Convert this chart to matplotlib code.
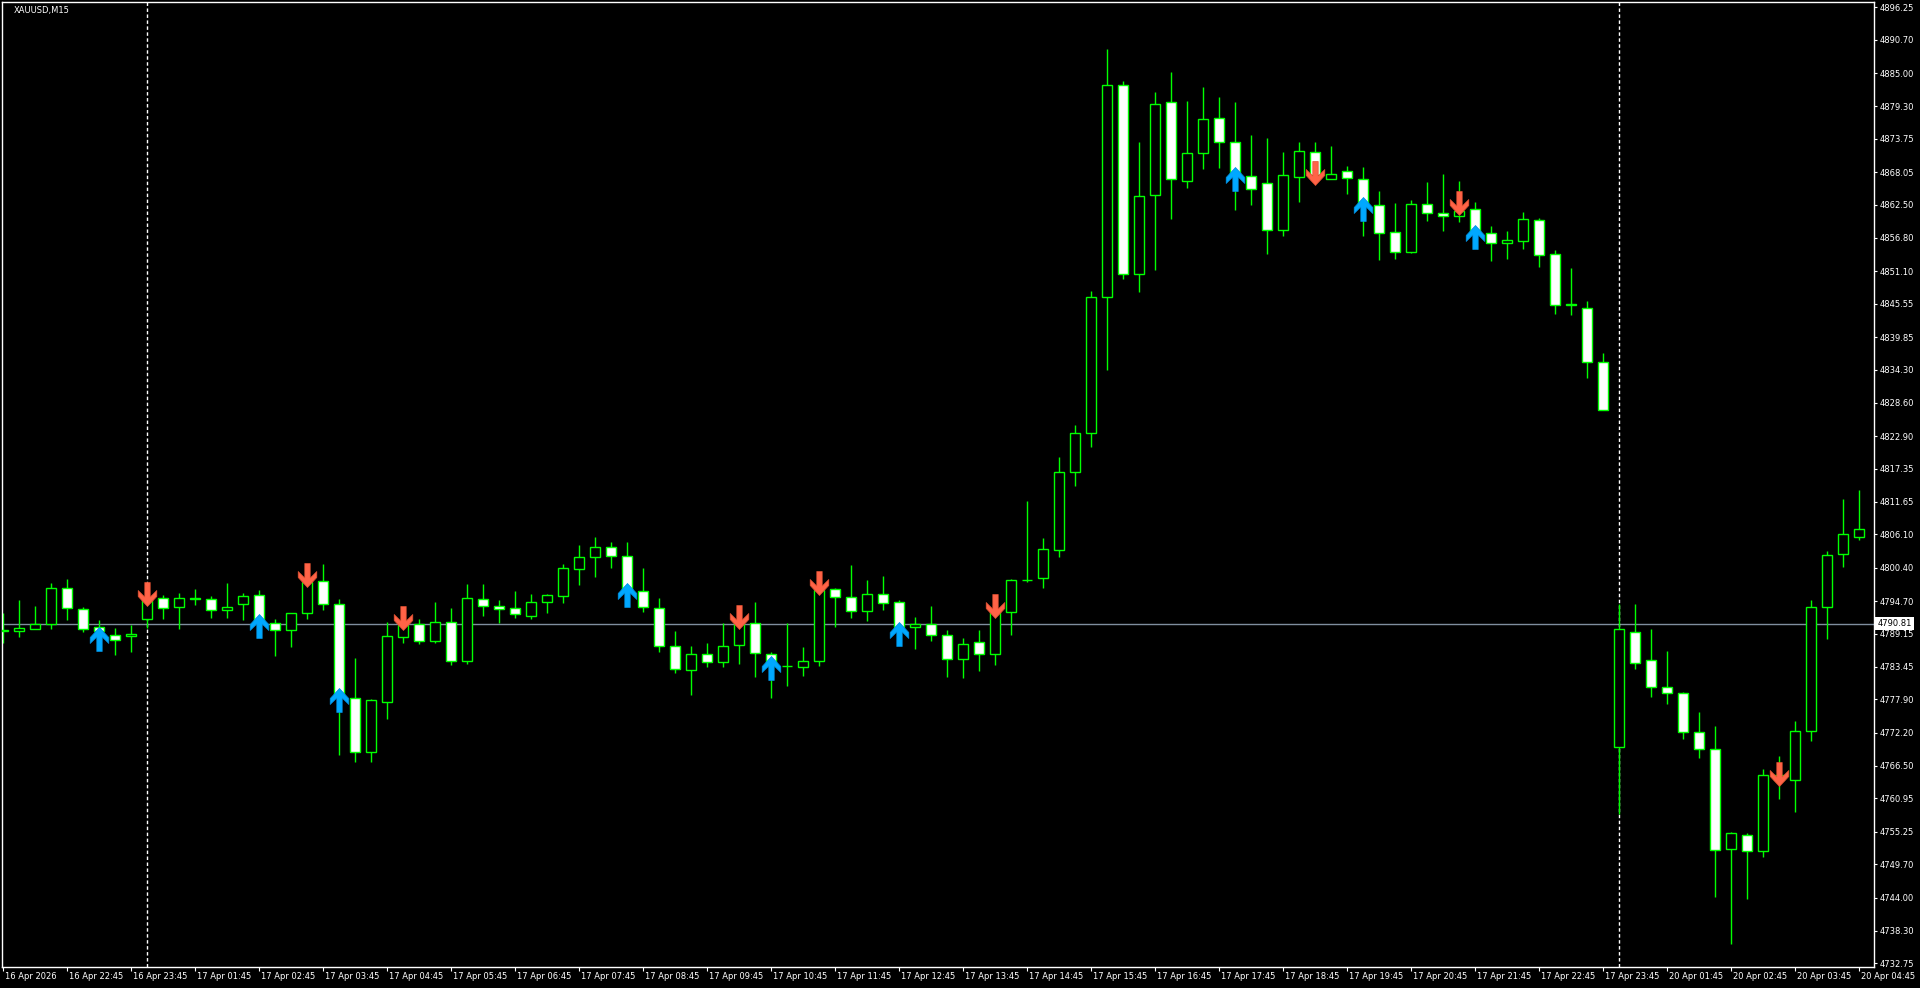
import matplotlib
matplotlib.use('Agg')
import matplotlib.pyplot as plt
import numpy as np
from matplotlib.path import Path
from matplotlib.markers import MarkerStyle
from matplotlib.transforms import ScaledTranslation, blended_transform_factory

plt.rcParams['font.family'] = ['DejaVu Sans']

# ---- data (XAUUSD M15) ----
opens = [4789.63, 4789.52, 4789.97, 4790.72, 4796.87, 4793.28, 4790.20, 4788.84, 4788.66, 4791.57,
         4795.16, 4793.62, 4795.16, 4794.99, 4793.11, 4794.14, 4795.68, 4790.89, 4789.69, 4792.60,
         4798.07, 4794.14, 4778.06, 4768.82, 4777.38, 4788.61, 4790.72, 4787.92, 4791.06, 4784.50,
         4794.99, 4793.79, 4793.45, 4792.20, 4794.48, 4795.62, 4800.24, 4802.17, 4803.89, 4802.35,
         4796.36, 4793.45, 4786.95, 4782.85, 4785.58, 4784.22, 4787.12, 4790.89, 4785.58, 4783.59,
         4783.36, 4784.39, 4796.70, 4795.33, 4792.94, 4795.85, 4794.48, 4790.20, 4790.72, 4788.83,
         4784.73, 4787.64, 4785.58, 4792.77, 4798.30, 4798.58, 4803.37, 4816.71, 4823.39, 4846.65,
         4882.91, 4850.58, 4864.21, 4880.00, 4866.60, 4871.39, 4877.26, 4873.16, 4867.46, 4866.15,
         4858.22, 4867.29, 4871.45, 4866.83, 4868.20, 4866.83, 4862.38, 4857.76, 4854.46, 4862.55,
         4861.01, 4860.49, 4861.69, 4857.59, 4855.88, 4856.22, 4859.81, 4853.99, 4845.44, 4844.76,
         4835.52, 4769.79, 4789.35, 4784.56, 4779.94, 4778.91, 4772.24, 4769.34, 4752.23, 4754.63,
         4751.89, 4764.89, 4764.03, 4772.42, 4793.62, 4802.69, 4805.71]
highs = [4792.60, 4794.88, 4793.85, 4797.73, 4798.47, 4793.68, 4791.46, 4790.03, 4790.60, 4795.73,
         4795.73, 4796.02, 4796.70, 4795.56, 4797.73, 4796.02, 4796.59, 4791.57, 4792.60, 4798.58,
         4801.04, 4794.99, 4784.90, 4777.89, 4791.12, 4793.74, 4791.57, 4794.53, 4793.51, 4797.61,
         4797.61, 4794.88, 4796.42, 4795.90, 4795.90, 4801.03, 4804.28, 4805.65, 4804.74, 4804.80,
         4800.35, 4795.16, 4789.58, 4787.01, 4787.52, 4790.94, 4791.00, 4794.53, 4785.93, 4790.94,
         4786.84, 4796.70, 4796.99, 4800.86, 4798.30, 4798.98, 4794.88, 4791.91, 4793.85, 4789.75,
         4788.38, 4789.75, 4793.05, 4798.47, 4811.81, 4805.48, 4819.34, 4824.81, 4847.73, 4889.12,
         4883.59, 4873.21, 4881.77, 4885.19, 4880.23, 4882.62, 4880.91, 4880.06, 4874.41, 4873.90,
         4871.50, 4873.21, 4873.21, 4872.53, 4869.11, 4868.94, 4864.83, 4862.78, 4863.29, 4866.37,
         4867.73, 4866.54, 4862.95, 4858.84, 4857.99, 4861.24, 4860.21, 4854.74, 4851.66, 4846.01,
         4837.06, 4794.19, 4794.19, 4789.92, 4786.16, 4779.14, 4775.72, 4773.33, 4755.14, 4754.97,
         4765.97, 4768.20, 4774.18, 4794.88, 4803.30, 4812.15, 4813.70]
lows = [4787.47, 4788.61, 4789.97, 4789.97, 4791.46, 4789.46, 4788.89, 4785.47, 4786.04, 4790.03,
        4791.63, 4789.97, 4794.02, 4791.86, 4791.86, 4791.46, 4790.32, 4785.30, 4786.90, 4791.63,
        4793.17, 4768.37, 4767.23, 4767.23, 4774.47, 4787.47, 4787.41, 4787.58, 4783.82, 4783.93,
        4792.20, 4791.00, 4791.86, 4791.63, 4792.60, 4794.42, 4797.50, 4798.87, 4800.41, 4796.02,
        4792.88, 4786.04, 4782.45, 4778.69, 4783.36, 4783.47, 4783.99, 4781.77, 4778.17, 4780.23,
        4781.94, 4783.65, 4790.32, 4791.86, 4791.34, 4793.22, 4790.03, 4786.44, 4787.92, 4781.76,
        4781.59, 4782.79, 4783.76, 4788.89, 4798.01, 4796.99, 4802.29, 4814.43, 4820.99, 4834.22,
        4849.73, 4847.62, 4851.38, 4860.10, 4865.40, 4868.65, 4868.82, 4861.58, 4862.44, 4854.06,
        4857.19, 4863.01, 4866.15, 4866.83, 4864.38, 4857.19, 4853.03, 4853.20, 4854.29, 4859.75,
        4858.04, 4859.58, 4857.02, 4852.91, 4853.25, 4854.96, 4851.88, 4843.85, 4843.68, 4832.90,
        4827.31, 4758.22, 4783.02, 4778.34, 4777.15, 4771.16, 4767.91, 4744.14, 4735.99, 4743.79,
        4750.86, 4760.79, 4758.68, 4770.76, 4788.27, 4800.58, 4805.14]
closes = [4789.70, 4790.03, 4790.72, 4796.87, 4793.57, 4789.86, 4789.52, 4787.98, 4789.06, 4794.88,
          4793.45, 4795.16, 4795.11, 4793.11, 4793.62, 4795.51, 4790.89, 4789.69, 4792.60, 4798.01,
          4794.14, 4778.23, 4768.82, 4777.72, 4788.66, 4790.66, 4787.92, 4791.06, 4784.50, 4795.16,
          4793.79, 4793.40, 4792.43, 4794.53, 4795.68, 4800.29, 4802.17, 4803.89, 4802.35, 4796.36,
          4793.62, 4786.95, 4783.02, 4785.58, 4784.22, 4786.95, 4790.77, 4785.76, 4783.65, 4783.62,
          4784.39, 4796.59, 4795.33, 4792.94, 4795.90, 4794.31, 4790.20, 4790.72, 4788.83, 4784.73,
          4787.30, 4785.58, 4792.77, 4798.24, 4798.24, 4803.54, 4816.71, 4823.39, 4846.65, 4882.91,
          4850.58, 4863.92, 4879.66, 4866.83, 4871.28, 4877.09, 4873.16, 4867.51, 4865.23, 4858.22,
          4867.51, 4871.62, 4867.57, 4867.68, 4867.00, 4862.38, 4857.71, 4854.46, 4862.55, 4861.01,
          4860.49, 4861.41, 4857.59, 4855.88, 4856.39, 4859.98, 4853.82, 4845.27, 4845.40, 4835.52,
          4827.31, 4789.86, 4784.05, 4779.94, 4778.91, 4772.24, 4769.34, 4752.06, 4754.97, 4751.89,
          4764.89, 4764.03, 4772.42, 4793.62, 4802.60, 4806.11, 4806.96]

time_labels = ["16 Apr 2026", "16 Apr 22:45", "16 Apr 23:45", "17 Apr 01:45", "17 Apr 02:45",
               "17 Apr 03:45", "17 Apr 04:45", "17 Apr 05:45", "17 Apr 06:45", "17 Apr 07:45",
               "17 Apr 08:45", "17 Apr 09:45", "17 Apr 10:45", "17 Apr 11:45", "17 Apr 12:45",
               "17 Apr 13:45", "17 Apr 14:45", "17 Apr 15:45", "17 Apr 16:45", "17 Apr 17:45",
               "17 Apr 18:45", "17 Apr 19:45", "17 Apr 20:45", "17 Apr 21:45", "17 Apr 22:45",
               "17 Apr 23:45", "20 Apr 01:45", "20 Apr 02:45", "20 Apr 03:45", "20 Apr 04:45"]
time_label_idx = list(range(0, 117, 4))

price_ticks = [4896.25, 4890.70, 4885.00, 4879.30, 4873.75, 4868.05, 4862.50, 4856.80, 4851.10,
               4845.55, 4839.85, 4834.30, 4828.60, 4822.90, 4817.35, 4811.65, 4806.10, 4800.40,
               4794.70, 4789.15, 4783.45, 4777.90, 4772.20, 4766.50, 4760.95, 4755.25, 4749.70,
               4744.00, 4738.30, 4732.75]
price_tick_labels = ["%.2f" % v for v in price_ticks]

buy_idx = [6, 16, 21, 39, 48, 56, 77, 85, 92]
buy_price = [4790.32, 4792.48, 4779.77, 4797.73, 4785.30, 4791.17, 4869.00, 4863.75, 4859.01]
sell_idx = [9, 19, 25, 46, 51, 62, 82, 91, 111]
sell_price = [4793.85, 4797.16, 4789.75, 4789.86, 4795.73, 4791.74, 4865.86, 4860.72, 4763.12]

separator_idx = [9, 101]
price_line = 4790.81
symbol_title = "XAUUSD,M15"

# ---- figure ----
W, H = 1920, 988
fig = plt.figure(figsize=(W / 100, H / 100), dpi=100, facecolor='black')
L, R, T, B = 2, 1874, 2, 967
ax = fig.add_axes([L / W, 1 - B / H, (R - L) / W, (B - T) / H])
ax.set_facecolor('black')

o = np.array(opens); h = np.array(highs); l = np.array(lows); c = np.array(closes)
x = np.arange(len(o))
green = '#00FF00'

ax.axhline(price_line, color='#7F8E9E', linewidth=1.0, zorder=1)
for s in separator_idx:
    ax.axvline(s, color='white', linewidth=1.0, linestyle=(0, (2.5, 1.8)), zorder=1)

ax.vlines(x, l, h, color=green, linewidth=1.0, zorder=2)
bull = c >= o
face = ['black' if b else 'white' for b in bull]
ax.bar(x, np.abs(c - o), bottom=np.minimum(o, c), width=0.62, color=face,
       edgecolor=green, linewidth=1.0, zorder=3)

# arrows
up_verts = [(0, 0), (9.3, -10), (9.3, -16), (2.7, -9.5), (2.7, -24), (-2.7, -24),
            (-2.7, -9.5), (-9.3, -16), (-9.3, -10), (0, 0)]
dn_verts = [(vx, -vy) for vx, vy in up_verts]
up_marker = MarkerStyle(Path(up_verts, closed=True))
dn_marker = MarkerStyle(Path(dn_verts, closed=True))
ms = 34.56
ax.plot(buy_idx, buy_price, linestyle='none', marker=up_marker, markersize=ms,
        markerfacecolor='#00A8FF', markeredgecolor='#0090E0', markeredgewidth=0.5, zorder=5)
ax.plot(sell_idx, sell_price, linestyle='none', marker=dn_marker, markersize=ms,
        markerfacecolor='#FF6347', markeredgecolor='#E05030', markeredgewidth=0.5, zorder=5)

ax.set_xlim(-0.08, 116.92)
ax.set_ylim(4732.12, 4897.16)

for sp in ax.spines.values():
    sp.set_color('white')
    sp.set_linewidth(1.0)

fs = 6
ax.yaxis.tick_right()
ax.set_yticks(price_ticks)
ax.set_yticklabels(price_tick_labels)
ax.tick_params(axis='y', colors='white', length=2.5, width=0.8, labelsize=fs, pad=1.8)
ax.set_xticks(time_label_idx)
ax.set_xticklabels([''] * len(time_label_idx))
ax.tick_params(axis='x', colors='white', length=3, width=0.8)

trans_x = blended_transform_factory(ax.transData, ax.transAxes)
for i, lab in zip(time_label_idx, time_labels):
    ax.text(i, 0, lab, transform=trans_x + ScaledTranslation(1.5 / 100, -9.5 / 100, fig.dpi_scale_trans),
            ha='left', va='center', color='white', fontsize=fs, clip_on=False)

trans_y = blended_transform_factory(ax.transAxes, ax.transData)
ax.text(1.0, price_line, "%.2f" % price_line,
        transform=trans_y + ScaledTranslation(3.5 / 100, 0, fig.dpi_scale_trans),
        ha='left', va='center', color='black', fontsize=fs, zorder=10, clip_on=False,
        bbox=dict(facecolor='white', edgecolor='none', boxstyle='square,pad=0.25'))

fig.text(14 / W, 1 - 10.7 / H, symbol_title, ha='left', va='center', color='white', fontsize=fs)

fig.savefig('out.png', dpi=100, facecolor='black')
